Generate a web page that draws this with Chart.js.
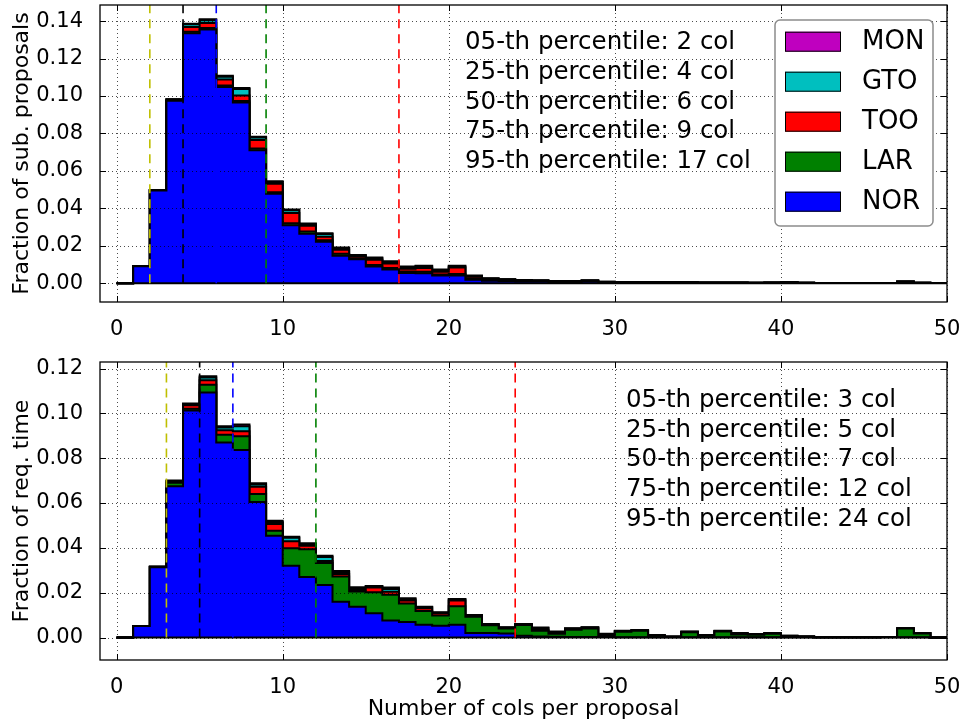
<!DOCTYPE html>
<html><head><meta charset="utf-8">
<script src="https://cdn.jsdelivr.net/npm/chart.js@4.4.1/dist/chart.umd.min.js"></script>
<style>
html,body{margin:0;padding:0;background:#fff;}
#wrap{position:relative;width:963px;height:725px;overflow:hidden;}
#c1{position:absolute;left:0;top:0;}
#c2{position:absolute;left:0;top:340px;}
</style></head><body>
<div id="wrap"><canvas id="c1" width="963" height="340"></canvas><canvas id="c2" width="963" height="385"></canvas></div>
<script>
// ---------- data ----------
const binEdges = Array.from({length: 51}, (_, i) => i); // 0..50, bin width 1
const categories = ['NOR', 'LAR', 'TOO', 'GTO', 'MON'];
const categoryColors = ['#0000ff', '#008000', '#ff0000', '#00bfbf', '#bf00bf'];
const xTicks = [0, 10, 20, 30, 40, 50];
const yTicksTop = [0, 0.02, 0.04, 0.06, 0.08, 0.10, 0.12, 0.14];
const yTicksBottom = [0, 0.02, 0.04, 0.06, 0.08, 0.10, 0.12];
const percentileNames = ['05', '25', '50', '75', '95'];
const percentileColors = ['#bfbf00', '#000000', '#0000ff', '#008000', '#ff0000'];
const percentilesTop = [2, 4, 6, 9, 17];
const percentilesBottom = [3, 5, 7, 12, 24];

// top panel: fraction of submitted proposals
const norTop = [0, 0.0091, 0.0495, 0.0975, 0.1335, 0.1355, 0.1048, 0.0965, 0.0710, 0.0478,
  0.0310, 0.0265, 0.0222, 0.0147, 0.0128, 0.0090, 0.0073, 0.0055, 0.0053, 0.0041,
  0.0041, 0.0019, 0.0014, 0.0012, 0.0010, 0.0009, 0.0007, 0.0007, 0.0009, 0.0005,
  0.0004, 0.0004, 0.0004, 0.0003, 0.0003, 0.0002, 0.0002, 0.0002, 0.0002, 0.0002,
  0.0003, 0.0002, 0.0001, 0.0001, 0.0001, 0.0001, 0.0001, 0.0005, 0.0002, 0.0001];
const larTop = [0, 0, 0.0001, 0.0003, 0.0008, 0.0008, 0.0008, 0.0008, 0.0010, 0.0008,
  0.0010, 0.0012, 0.0008, 0.0010, 0.0006, 0.0008, 0.0008, 0.0008, 0.0008, 0.0006,
  0.0008, 0.0006, 0.0004, 0.0004, 0.0003, 0.0003, 0.0002, 0.0002, 0.0003, 0.0001,
  0.0001, 0.0001, 0.0001, 0.0001, 0.0001, 0.0001, 0.0001, 0.0001, 0.0001, 0.0001,
  0.0002, 0.0001, 0.0001, 0.0001, 0.0001, 0.0001, 0.0001, 0.0003, 0.0001, 0];
const tooTop = [0, 0, 0.0002, 0.0003, 0.0025, 0.0027, 0.0032, 0.0030, 0.0045, 0.0045,
  0.0055, 0.0030, 0.0018, 0.0022, 0.0010, 0.0028, 0.0024, 0.0015, 0.0020, 0.0015,
  0.0035, 0.0010, 0.0005, 0.0003, 0.0003, 0.0002, 0.0002, 0.0002, 0.0002, 0.0001,
  0.0001, 0.0001, 0.0001, 0.0001, 0.0001, 0.0001, 0.0001, 0.0001, 0, 0.0001,
  0.0001, 0, 0, 0, 0, 0, 0, 0.0001, 0, 0];
const gtoTop = [0, 0, 0, 0.0001, 0.0015, 0.0015, 0.0015, 0.0035, 0.0013, 0.0010,
  0.0015, 0.0008, 0.0015, 0.0008, 0.0005, 0.0008, 0.0008, 0.0007, 0.0008, 0.0007,
  0.0006, 0.0004, 0.0003, 0.0002, 0.0001, 0.0001, 0.0001, 0.0001, 0.0001, 0.0001,
  0.0001, 0, 0, 0, 0, 0, 0, 0, 0, 0,
  0, 0, 0, 0, 0, 0, 0, 0.0001, 0, 0];
const monTop = [0, 0, 0, 0.0001, 0.0003, 0.0005, 0.0005, 0.0005, 0.0005, 0.0004,
  0.0004, 0.0004, 0.0004, 0.0004, 0.0002, 0.0004, 0.0004, 0.0004, 0.0005, 0.0004,
  0.0004, 0.0002, 0.0001, 0.0001, 0.0001, 0.0001, 0, 0, 0.0001, 0,
  0, 0, 0, 0, 0, 0, 0, 0, 0, 0,
  0, 0, 0, 0, 0, 0, 0, 0, 0, 0];

// bottom panel: fraction of requested time
const norBottom = [0, 0.0052, 0.0314, 0.0675, 0.1013, 0.1093, 0.0870, 0.0836, 0.0605, 0.0454,
  0.0320, 0.0270, 0.0235, 0.0160, 0.0138, 0.0109, 0.0076, 0.0070, 0.0057, 0.0053,
  0.0057, 0.0020, 0.0020, 0.0018, 0.0008, 0.0005, 0.0004, 0.0003, 0.0003, 0.0003,
  0.0002, 0.0002, 0.0002, 0.0001, 0.0002, 0.0002, 0.0002, 0.0002, 0.0002, 0.0001,
  0.0001, 0.0001, 0.0001, 0.0001, 0.0001, 0.0001, 0.0001, 0.0002, 0.0001, 0];
const larBottom = [0, 0, 0.0002, 0.0015, 0.0008, 0.0035, 0.0035, 0.0062, 0.0035, 0.0022,
  0.0078, 0.0124, 0.0098, 0.0112, 0.0068, 0.0093, 0.0115, 0.0082, 0.0062, 0.0045,
  0.0083, 0.0073, 0.0035, 0.0022, 0.0048, 0.0025, 0.0013, 0.0032, 0.0038, 0.0008,
  0.0024, 0.0028, 0.0006, 0.0002, 0.0022, 0.0007, 0.0025, 0.0012, 0.0011, 0.0016,
  0.0005, 0.0003, 0.0001, 0.0001, 0.0001, 0.0001, 0.0002, 0.0038, 0.0017, 0];
const tooBottom = [0, 0, 0, 0.0003, 0.0015, 0.0020, 0.0020, 0.0022, 0.0033, 0.0030,
  0.0032, 0.0015, 0.0008, 0.0012, 0.0006, 0.0021, 0.0013, 0.0013, 0.0012, 0.0010,
  0.0025, 0.0005, 0.0003, 0.0003, 0.0002, 0.0005, 0.0004, 0.0003, 0.0003, 0.0003,
  0.0002, 0.0002, 0.0002, 0.0001, 0.0001, 0.0001, 0.0001, 0.0001, 0.0001, 0.0001,
  0.0001, 0.0001, 0, 0, 0, 0, 0, 0.0001, 0.0001, 0];
const gtoBottom = [0, 0, 0, 0.0005, 0.0005, 0.0012, 0.0012, 0.0022, 0.0010, 0.0010,
  0.0015, 0.0008, 0.0018, 0.0008, 0.0008, 0.0005, 0.0013, 0.0006, 0.0005, 0.0003,
  0.0005, 0.0002, 0.0002, 0.0002, 0.0002, 0.0008, 0.0004, 0.0003, 0.0001, 0.0002,
  0.0001, 0.0001, 0.0001, 0.0001, 0.0001, 0.0001, 0.0001, 0.0004, 0.0001, 0.0001,
  0.0001, 0, 0, 0, 0, 0, 0, 0.0001, 0.0001, 0];
const monBottom = [0, 0, 0, 0.0003, 0.0003, 0.0006, 0.0006, 0.0008, 0.0005, 0.0005,
  0.0005, 0.0004, 0.0006, 0.0005, 0.0004, 0.0002, 0.0006, 0.0004, 0.0002, 0.0002,
  0.0002, 0.0001, 0.0001, 0.0001, 0.0001, 0.0002, 0.0002, 0.0001, 0.0001, 0.0001,
  0.0001, 0.0001, 0.0001, 0, 0.0001, 0.0001, 0.0001, 0.0001, 0.0001, 0.0001,
  0, 0, 0, 0, 0, 0, 0, 0, 0, 0];

// ---------- helpers ----------
const FONT = 'DejaVu Sans';
function stepPoints(vals) {
  return binEdges.map((e, i) => ({x: e, y: vals[Math.min(i, vals.length - 1)]}));
}
function buildDatasets(series) {
  const ds = [{
    label: '_base', data: stepPoints(binEdges.slice(0, 50).map(() => 0)),
    borderColor: '#000', borderWidth: 2, fill: false, stepped: 'before', pointRadius: 0
  }];
  series.forEach((vals, k) => {
    ds.push({
      label: categories[k], data: stepPoints(vals),
      backgroundColor: categoryColors[k], borderColor: '#000', borderWidth: 2,
      fill: k === 0 ? 'origin' : '-1', stepped: 'before', pointRadius: 0
    });
  });
  return ds;
}

const overlayPlugin = {
  id: 'overlay',
  afterDatasetsDraw(chart, args, opts) {
    const ctx = chart.ctx;
    const {left, right, top, bottom} = chart.chartArea;
    const xs = chart.scales.x, ys = chart.scales.y;
    ctx.save();
    // dotted grid
    ctx.strokeStyle = 'rgba(0,0,0,0.7)';
    ctx.lineWidth = 1;
    ctx.setLineDash([1, 3]);
    opts.xTicks.forEach(v => {
      const x = Math.round(xs.getPixelForValue(v)) + 0.5;
      ctx.beginPath(); ctx.moveTo(x, top); ctx.lineTo(x, bottom); ctx.stroke();
    });
    opts.yTicks.forEach(v => {
      const y = Math.round(ys.getPixelForValue(v)) + 0.5;
      ctx.beginPath(); ctx.moveTo(left, y); ctx.lineTo(right, y); ctx.stroke();
    });
    // percentile lines
    ctx.setLineDash([9, 6]);
    ctx.lineWidth = 1.6;
    const y0 = ys.getPixelForValue(0);
    opts.percentiles.forEach((p, i) => {
      const x = xs.getPixelForValue(p);
      ctx.strokeStyle = percentileColors[i];
      ctx.beginPath(); ctx.moveTo(x, y0); ctx.lineTo(x, top); ctx.stroke();
    });
    ctx.setLineDash([]);
    // frame and inward ticks
    ctx.strokeStyle = '#000';
    ctx.lineWidth = 1.3;
    ctx.strokeRect(left, top, right - left, bottom - top);
    ctx.lineWidth = 1;
    const tl = 6;
    opts.xTicks.forEach(v => {
      const x = Math.round(xs.getPixelForValue(v)) + 0.5;
      ctx.beginPath(); ctx.moveTo(x, bottom); ctx.lineTo(x, bottom - tl);
      ctx.moveTo(x, top); ctx.lineTo(x, top + tl); ctx.stroke();
    });
    opts.yTicks.forEach(v => {
      const y = Math.round(ys.getPixelForValue(v)) + 0.5;
      ctx.beginPath(); ctx.moveTo(left, y); ctx.lineTo(left + tl, y);
      ctx.moveTo(right, y); ctx.lineTo(right - tl, y); ctx.stroke();
    });
    // percentile text
    ctx.fillStyle = '#000';
    ctx.font = '24.5px "' + FONT + '"';
    ctx.textAlign = 'left';
    ctx.textBaseline = 'alphabetic';
    opts.percentiles.forEach((p, i) => {
      ctx.fillText(percentileNames[i] + '-th percentile: ' + p + ' col', opts.textX, opts.textY + i * 29.8);
    });
    // legend
    if (opts.legend) {
      const L = opts.legend;
      ctx.fillStyle = '#fff';
      ctx.strokeStyle = '#8c8c8c';
      ctx.lineWidth = 1.5;
      ctx.beginPath();
      ctx.roundRect(L.x, L.y, L.w, L.h, 5);
      ctx.fill(); ctx.stroke();
      const items = chart.data.datasets.filter(d => !d.label.startsWith('_')).slice().reverse();
      ctx.font = '26px "' + FONT + '"';
      ctx.textBaseline = 'middle';
      items.forEach((d, i) => {
        const cy = L.y + 21.7 + i * 40;
        ctx.fillStyle = d.backgroundColor;
        ctx.fillRect(L.x + 10, cy - 10, 56, 20);
        ctx.strokeStyle = '#000';
        ctx.lineWidth = 1;
        ctx.strokeRect(L.x + 10.5, cy - 9.5, 55, 19);
        ctx.fillStyle = '#000';
        ctx.fillText(d.label, L.x + 87, cy + 1);
      });
    }
    ctx.restore();
  }
};

function makeChart(canvasId, series, cfg) {
  const tickFont = {family: FONT, size: 21};
  const titleFont = {family: FONT, size: 22};
  return new Chart(document.getElementById(canvasId), {
    type: 'line',
    data: {datasets: buildDatasets(series)},
    plugins: [overlayPlugin],
    options: {
      responsive: false, animation: false, devicePixelRatio: 1,
      layout: {padding: {left: 0, right: 16, top: cfg.padTop, bottom: 0}},
      elements: {line: {tension: 0}},
      plugins: {
        legend: {display: false}, tooltip: {enabled: false},
        overlay: {xTicks: xTicks, yTicks: cfg.yTicks, percentiles: cfg.percentiles,
          textX: cfg.textX, textY: cfg.textY, legend: cfg.legend}
      },
      scales: {
        x: {
          type: 'linear', min: -1, max: 50,
          grid: {display: false}, border: {display: false},
          afterBuildTicks: s => { s.ticks = xTicks.map(v => ({value: v})); },
          afterFit: s => { s.height = cfg.xAxisH; s.paddingLeft = 0; s.paddingRight = 0; },
          ticks: {font: tickFont, color: '#000', padding: 7, maxRotation: 0, autoSkip: false,
            callback: v => String(v)},
          title: {display: !!cfg.xTitle, text: cfg.xTitle || '', font: titleFont, color: '#000',
            padding: {top: 0, bottom: 3}}
        },
        y: {
          type: 'linear', stacked: true, min: -0.01, max: cfg.ymax,
          grid: {display: false}, border: {display: false},
          afterBuildTicks: s => { s.ticks = cfg.yTicks.map(v => ({value: v})); },
          afterFit: s => { s.width = 100; s.paddingTop = 0; s.paddingBottom = 0; },
          ticks: {font: tickFont, color: '#000', padding: 9, autoSkip: false,
            callback: v => Number(v).toFixed(2)},
          title: {display: true, text: cfg.yTitle, font: titleFont, color: '#000',
            padding: {top: 9, bottom: 0}}
        }
      }
    }
  });
}

makeChart('c1', [norTop, larTop, tooTop, gtoTop, monTop], {
  padTop: 5, xAxisH: 38, ymax: 0.1486, yTicks: yTicksTop,
  yTitle: 'Fraction of sub. proposals', percentiles: percentilesTop,
  textX: 465, textY: 49, legend: {x: 775, y: 20, w: 158, h: 206}
});
makeChart('c2', [norBottom, larBottom, tooBottom, gtoBottom, monBottom], {
  padTop: 22, xAxisH: 65, ymax: 0.1229, yTicks: yTicksBottom,
  yTitle: 'Fraction of req. time', xTitle: 'Number of cols per proposal',
  percentiles: percentilesBottom, textX: 626, textY: 66.7, legend: null
});
</script>
</body></html>
